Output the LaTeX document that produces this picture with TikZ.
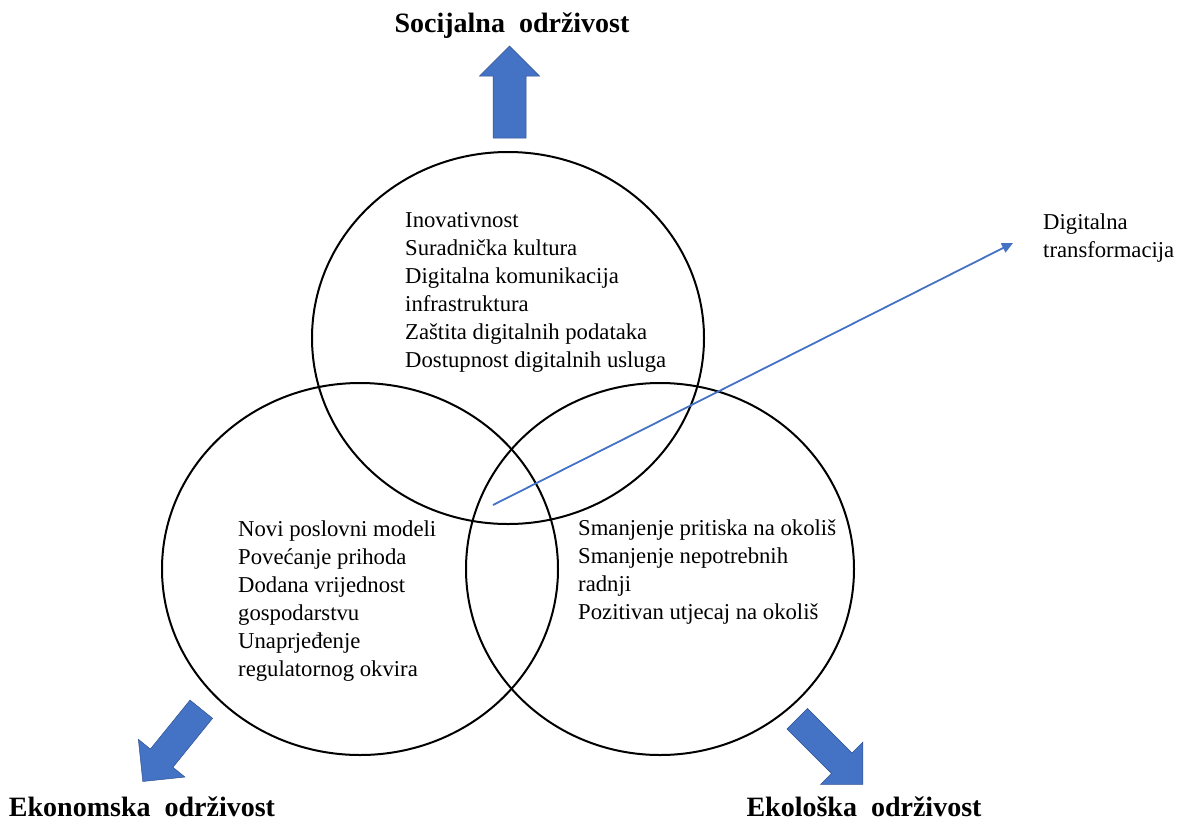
\documentclass[tikz,border=0pt]{standalone}
\usepackage{fontspec}
\setmainfont{Liberation Serif}
\usetikzlibrary{arrows.meta}
\definecolor{accentblue}{HTML}{4472C4}
\definecolor{arrowedge}{HTML}{2F528F}

% Block arrow: start point (x,y), direction angle, shaft half width, length
\newcommand{\blockarrow}[5]{%
  \begin{scope}[shift={(#1,#2)}, rotate=#3]
    \filldraw[blockfill] (0,-#4) -- ({#5-30},-#4) -- ({#5-30},-30) -- (#5,0)
      -- ({#5-30},30) -- ({#5-30},#4) -- (0,#4) -- cycle;
  \end{scope}}

\begin{document}
\begin{tikzpicture}[x=1pt, y=-1pt,
  ring/.style={draw=black, line width=2pt},
  blockfill/.style={fill=accentblue, draw=arrowedge, line width=0.5pt},
  % multi-line nodes: the base anchor sits on the last line
  bodytext/.style={font=\fontsize{22.7}{28}\selectfont, align=left, anchor=base west, inner sep=0pt},
  headtext/.style={font=\fontsize{28}{32}\selectfont\bfseries, anchor=base, inner sep=0pt},
  flow/.style={draw=accentblue, line width=1.8pt, -{Triangle[length=11pt, width=10pt]}}]

\useasboundingbox (0,0) rectangle (1189,820);

% three overlapping circles
\draw[ring] (508,338) ellipse [x radius=196pt, y radius=186pt];
\draw[ring] (360,569) ellipse [x radius=198pt, y radius=186pt];
\draw[ring] (660,569) ellipse [x radius=194pt, y radius=186pt];

% text inside the circles
\node[bodytext] (social) at (405,367) {Inovativnost\\Suradnička kultura\\Digitalna komunikacija\\infrastruktura\\Zaštita digitalnih podataka\\Dostupnost digitalnih usluga};
\node[bodytext] (economic) at (238,676) {Novi poslovni modeli\\Povećanje prihoda\\Dodana vrijednost\\gospodarstvu\\Unaprjeđenje\\regulatornog okvira};
\node[bodytext] (ecologic) at (578,619) {Smanjenje pritiska na okoliš\\Smanjenje nepotrebnih\\radnji\\Pozitivan utjecaj na okoliš};

% digital transformation axis
\node[bodytext] (digital) at (1043,257) {Digitalna\\transformacija};
\coordinate (dtstart) at (493,505);
\coordinate (dtend) at (1013,243);
\draw[flow] (dtstart) -- (dtend);

% block arrows towards the three dimensions
\blockarrow{509.5}{138}{90}{16.5}{92}
\blockarrow{201.3}{709.2}{231}{14.5}{93}
\blockarrow{797.2}{718.7}{-45}{14.5}{93}

% dimension headings
\node[headtext] (hsocial) at (512,32) {Socijalna\hspace{0.5em}održivost};
\node[headtext] (heconomic) at (142,816) {Ekonomska\hspace{0.5em}održivost};
\node[headtext] (hecologic) at (864,816) {Ekološka\hspace{0.5em}održivost};
\end{tikzpicture}
\end{document}
